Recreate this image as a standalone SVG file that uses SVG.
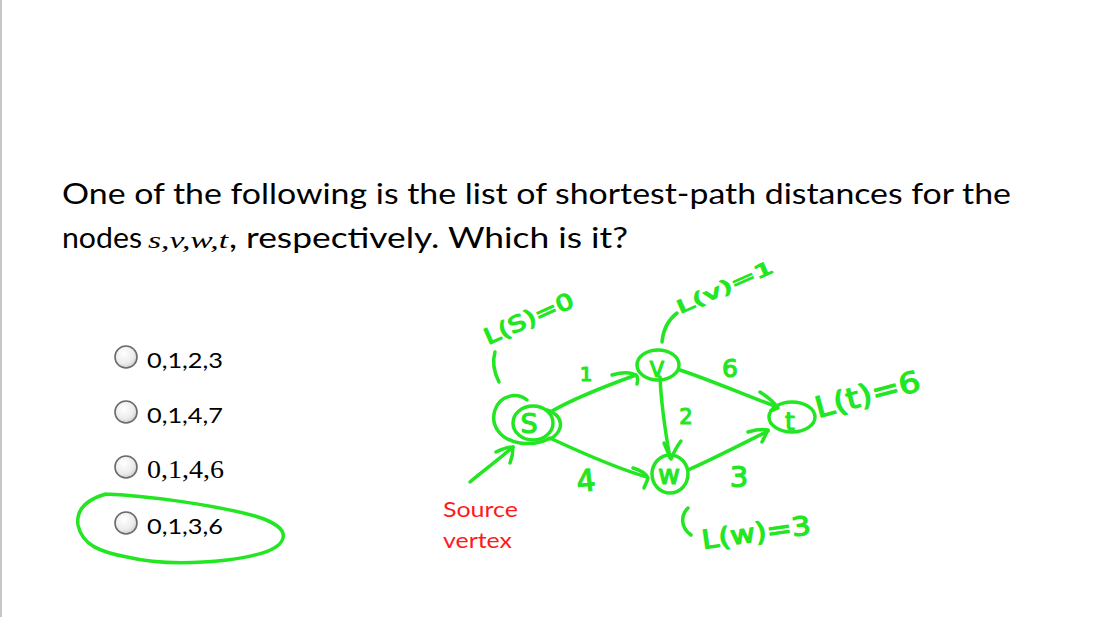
<svg xmlns="http://www.w3.org/2000/svg" width="1098" height="617" viewBox="0 0 1098 617">
<style>
.q{font-family:Lato,"Open Sans",sans-serif;fill:#000}
.it{font-family:"Liberation Serif",serif;font-style:italic;fill:#000}
.opt{font-family:Lato,"Open Sans",sans-serif;font-size:22px;fill:#000}
.optS{font-family:"Liberation Serif",serif;font-size:25px;fill:#000}
.src{font-family:Lato,"Open Sans",sans-serif;font-size:21px;fill:#ff1a1a}
.pen{fill:none;stroke:#22e622;stroke-width:3.5;stroke-linecap:round;stroke-linejoin:round}
.hw{font-family:"DejaVu Sans",sans-serif;fill:#22e622;stroke:#22e622;stroke-width:1.2;stroke-linejoin:round}
.radio{fill:url(#rg);stroke:#6a6a6a;stroke-width:1.6}
</style>
<defs>
<radialGradient id="rg" cx="0.4" cy="0.35" r="0.75">
<stop offset="0" stop-color="#ffffff"/>
<stop offset="0.6" stop-color="#ececec"/>
<stop offset="1" stop-color="#c4c4c4"/>
</radialGradient>
</defs>
<rect x="0" y="0" width="1098" height="617" fill="#fff"/>
<rect x="0" y="0" width="2" height="617" fill="#c6c6c6"/>

<g id="question">
<text class="q" x="62" y="204" font-size="28" textLength="949" lengthAdjust="spacingAndGlyphs">One of the following is the list of shortest-path distances for the</text>
<text class="q" x="62" y="248" font-size="28" textLength="80" lengthAdjust="spacingAndGlyphs">nodes</text>
<text class="it" x="148" y="248" font-size="24" textLength="80" lengthAdjust="spacingAndGlyphs">s,v,w,t</text>
<text class="q" x="229" y="248" font-size="28" textLength="399" lengthAdjust="spacingAndGlyphs">, respectively.  Which is it?</text>
</g>

<g id="options">
<g id="opt1"><circle class="radio" cx="126" cy="357" r="11"/><text class="opt" x="147" y="368" textLength="76" lengthAdjust="spacingAndGlyphs">0,1,2,3</text></g>
<g id="opt2"><circle class="radio" cx="126" cy="412" r="11"/><text class="opt" x="147" y="423" textLength="76" lengthAdjust="spacingAndGlyphs">0,1,4,7</text></g>
<g id="opt3"><circle class="radio" cx="126" cy="467" r="11"/><text class="optS" x="147" y="478" textLength="77" lengthAdjust="spacingAndGlyphs">0,1,4,6</text></g>
<g id="opt4"><circle class="radio" cx="126" cy="523" r="11"/><text class="opt" x="147" y="534" textLength="76" lengthAdjust="spacingAndGlyphs">0,1,3,6</text></g>
<path id="answer-loop" class="pen" stroke-width="3" d="M106,494 C150,496 215,505 255,516 C275,522 285,530 283,538 C281,548 265,555 227,560 C200,563 160,565 127,557 C100,552 82,545 78,525 C76,510 85,500 106,494"/>
</g>

<g id="source-label">
<text class="src" x="443" y="517" textLength="75" lengthAdjust="spacingAndGlyphs">Source</text>
<text class="src" x="443" y="548" textLength="69" lengthAdjust="spacingAndGlyphs">vertex</text>
</g>

<g id="node-s">
<path class="pen" d="M527,400 C517,392 500,395 495,410 C490,425 500,440 520,443 C535,445 545,441 550,438"/>
<ellipse class="pen" cx="533" cy="423" rx="20" ry="17"/>
<path class="pen" d="M547,410 C557,413 562,420 560,428 C558,434 554,437 550,439"/>
<text class="hw" x="529" y="433" font-size="27" text-anchor="middle">S</text>
</g>
<g id="node-v">
<ellipse class="pen" cx="658" cy="365" rx="21" ry="15"/>
<text class="hw" x="657" y="377" font-size="21" text-anchor="middle">V</text>
</g>
<g id="node-w">
<ellipse class="pen" cx="670" cy="474" rx="18" ry="19"/>
<text class="hw" x="669" y="484" font-size="27" text-anchor="middle" textLength="22" lengthAdjust="spacingAndGlyphs">w</text>
</g>
<g id="node-t">
<ellipse class="pen" cx="792" cy="417" rx="23" ry="15"/>
<text class="hw" x="790" y="430" font-size="25" text-anchor="middle">t</text>
</g>

<g id="connectors">
<path class="pen" d="M552,411 C575,398 600,388 636,375"/>
<path class="pen" d="M612,375 C622,372 632,372 637,376 C638,379 638,381 637,384"/>
<path class="pen" d="M552,439 C580,452 615,468 647,477"/>
<path class="pen" d="M633,468 C640,470 646,474 648,478 C647,482 645,485 644,488"/>
<path class="pen" d="M680,370 C710,380 745,395 777,407"/>
<path class="pen" d="M760,392 C768,397 774,402 778,408 L771,411"/>
<path class="pen" d="M660,377 C661,400 665,430 670,458"/>
<path class="pen" d="M664,443 C667,450 669,455 671,459 C674,452 677,446 681,441"/>
<path class="pen" d="M688,470 C715,458 740,445 768,431"/>
<path class="pen" d="M748,432 C755,430 762,429 768,430 C766,434 764,438 762,442"/>
<path class="pen" d="M470,482 C482,472 498,460 513,447"/>
<path class="pen" d="M496,452 C502,449 508,447 513,447 C513,452 512,458 510,463"/>
<path class="pen" d="M495,352 C492,362 494,372 499,382"/>
<path class="pen" d="M662,342 C663,330 668,320 677,313"/>
<path class="pen" d="M688,508 C680,516 681,528 691,535"/>
</g>

<g id="edge-labels">
<text class="hw" x="586" y="381" font-size="20" text-anchor="middle">1</text>
<text class="hw" x="730" y="377" font-size="25" text-anchor="middle">6</text>
<text class="hw" x="686" y="424" font-size="21" text-anchor="middle">2</text>
<text class="hw" x="587" y="491" font-size="30" text-anchor="middle" transform="rotate(-6 587 491)">4</text>
<text class="hw" x="739" y="487" font-size="29" text-anchor="middle">3</text>
</g>

<g id="distance-labels">
<text class="hw" x="488" y="345" font-size="22" textLength="96" lengthAdjust="spacingAndGlyphs" transform="rotate(-24 488 345)">L(S)=0</text>
<text class="hw" x="680" y="314" font-size="18" textLength="104" lengthAdjust="spacingAndGlyphs" transform="rotate(-24 680 314)">L(v)=1</text>
<text class="hw" x="818" y="418" font-size="29" textLength="108" lengthAdjust="spacingAndGlyphs" transform="rotate(-15 818 418)">L(t)=6</text>
<text class="hw" x="703" y="549" font-size="26" textLength="110" lengthAdjust="spacingAndGlyphs" transform="rotate(-8 703 549)">L(w)=3</text>
</g>
</svg>
